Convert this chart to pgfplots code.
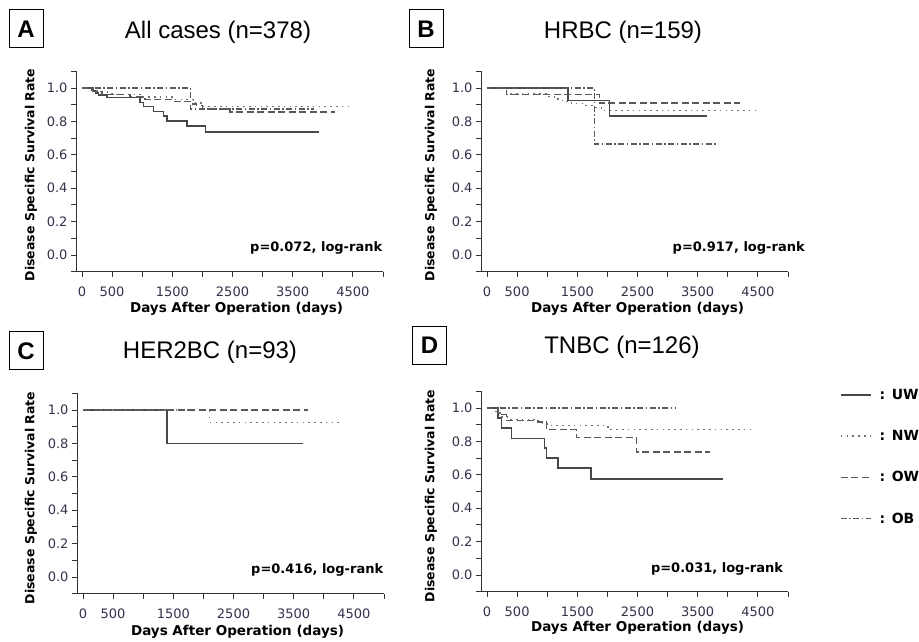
\documentclass[border=0pt]{standalone}
\usepackage{fontspec}
\usepackage{pgfplots}
\pgfplotsset{compat=1.18}
\setmainfont{DejaVu Sans}
\newfontfamily\dejavu{DejaVu Sans}
\newfontfamily\libsans{Liberation Sans}
\newcommand\tickfont{\dejavu\fontsize{13}{15}\selectfont}
\newcommand\ylabfont{\dejavu\bfseries\fontsize{12.5}{14}\selectfont}
\newcommand\xlabfont{\dejavu\bfseries\fontsize{13.5}{15}\selectfont}
\newcommand\pfont{\dejavu\bfseries\fontsize{13}{15}\selectfont}
\newcommand\legfont{\dejavu\bfseries\fontsize{14}{16}\selectfont}
\newcommand\titlefont{\libsans\fontsize{24}{28}\selectfont}
\newcommand\letterfont{\libsans\bfseries\fontsize{24}{28}\selectfont}
\definecolor{tickgray}{RGB}{50,50,75}

\pgfplotsset{
  km/.style={
    scale only axis, width=307pt, height=200.4pt,
    xmin=-100, xmax=5000, ymin=-0.1, ymax=1.1,
    axis lines=left, axis line style={-, black!80, line width=0.9pt},
    xtick={0,500,...,5000}, xticklabels={0,500,,1500,,2500,,3500,,4500,},
    ytick={0,0.2,0.4,0.6,0.8,1.0}, minor ytick={-0.1,0.1,0.3,0.5,0.7,0.9,1.1},
    tick align=outside, major tick length=5pt, minor tick length=5pt,
    tick style={black!80, line width=0.9pt},
    y tick label style={/pgf/number format/.cd, fixed, fixed zerofill, precision=1, /tikz/.cd},
    x tick label style={yshift=-7pt},
    ticklabel style={font=\tickfont, text=tickgray},
    /pgf/number format/assume math mode=true,
    xlabel={Days After Operation (days)},
    ylabel={Disease Specific Survival Rate},
    xlabel style={font=\xlabfont, anchor=center},
    ylabel style={font=\ylabfont, anchor=center},
    clip=false,
    legend image code/.code={\draw[#1] (0pt,0pt) -- (30pt,0pt);},
  },
  uw/.style={const plot, mark=none, draw=black!72, line width=1.6pt, solid},
  nw/.style={const plot, mark=none, draw=black!55, line width=1.5pt, dash pattern=on 1.6pt off 4.2pt},
  ow/.style={const plot, mark=none, draw=black!65, line width=1.5pt, dash pattern=on 7pt off 3.5pt},
  ob/.style={const plot, mark=none, draw=black!65, line width=1.3pt, dash pattern=on 6pt off 2.5pt on 1.5pt off 2.5pt},
}

\begin{document}
\begin{tikzpicture}
\useasboundingbox (0,0) rectangle (919pt,641pt);

% A: all cases
\begin{axis}[km, at={(76pt,369.3pt)}, anchor=south west,
  xlabel style={at={(axis description cs:0.523,-0.183)}},
  ylabel style={at={(axis description cs:-0.147,0.483)}}]
  \addplot[uw] coordinates {(0,1) (166,0.984) (221,0.97) (277,0.958) (415,0.944) (968,0.914) (1024,0.89) (1190,0.86) (1356,0.834) (1411,0.804) (1743,0.774) (2048,0.735) (3929,0.735)};
  \addplot[nw] coordinates {(0,1) (100,0.99) (250,0.975) (500,0.962) (1000,0.945) (1500,0.93) (1850,0.91) (2000,0.888) (4480,0.888)};
  \addplot[ow] coordinates {(0,1) (180,0.98) (330,0.96) (800,0.945) (1050,0.93) (1500,0.92) (1800,0.905) (1900,0.895) (2000,0.875) (2460,0.855) (4200,0.855)};
  \addplot[ob] coordinates {(0,1) (1800,0.875) (3850,0.875)};
  \node[anchor=east, font=\pfont, inner sep=0pt] at (axis cs:4990,0.043) {p=0.072, log-rank};
\end{axis}

% B: HRBC
\begin{axis}[km, at={(481pt,369.3pt)}, anchor=south west,
  xlabel style={at={(axis description cs:0.51,-0.183)}},
  ylabel style={at={(axis description cs:-0.163,0.483)}}]
  \addplot[uw] coordinates {(0,1) (1342,0.926) (2032,0.834) (3661,0.834)};
  \addplot[nw] coordinates {(0,1) (320,0.965) (1010,0.95) (1120,0.935) (1250,0.92) (1400,0.906) (1620,0.894) (1790,0.884) (1900,0.866) (4490,0.866)};
  \addplot[ow] coordinates {(0,1) (320,0.96) (1866,0.91) (4210,0.91)};
  \addplot[ob] coordinates {(0,1) (1784,0.664) (3827,0.664)};
  \node[anchor=east, font=\pfont, inner sep=0pt] at (axis cs:5280,0.043) {p=0.917, log-rank};
\end{axis}

% C: HER2BC
\begin{axis}[km, at={(77pt,47.3pt)}, anchor=south west,
  xlabel style={at={(axis description cs:0.523,-0.191)}},
  ylabel style={at={(axis description cs:-0.150,0.478)}}]
  \addplot[uw] coordinates {(0,1) (1396,0.8) (3657,0.8)};
  \addplot[nw] coordinates {(0,1) (2105,0.926) (4321,0.926)};
  \addplot[ow] coordinates {(0,1) (3740,1)};
  \node[anchor=east, font=\pfont, inner sep=0pt] at (axis cs:4990,0.042) {p=0.416, log-rank};
\end{axis}

% D: TNBC
\begin{axis}[km, at={(481pt,49.3pt)}, anchor=south west,
  xlabel style={at={(axis description cs:0.51,-0.182)}},
  ylabel style={at={(axis description cs:-0.163,0.478)}},
  legend style={at={(rel axis cs:1.169,1.012)}, anchor=north west, draw=none, fill=none,
    font=\legfont, inner sep=0pt, row sep=29.5pt, column sep=8pt,
    nodes={inner sep=0pt}},
  legend cell align=left]
  \addplot[uw] coordinates {(0,1) (183,0.94) (238,0.88) (404,0.818) (958,0.76) (990,0.70) (1179,0.64) (1731,0.575) (3917,0.575)};
  \addplot[nw] coordinates {(0,1) (150,0.97) (250,0.945) (400,0.93) (850,0.91) (1000,0.894) (2010,0.87) (4390,0.87)};
  \addplot[ow] coordinates {(0,1) (183,0.96) (320,0.926) (850,0.915) (986,0.87) (1484,0.824) (2481,0.736) (3699,0.736)};
  \addplot[ob] coordinates {(0,1) (3145,1)};
  \legend{: UW, : NW, : OW, : OB}
  \node[anchor=east, font=\pfont, inner sep=0pt] at (axis cs:4920,0.038) {p=0.031, log-rank};
\end{axis}

% titles and panel letters
\node[font=\titlefont] at (218pt,608.5pt) {All cases (n=378)};
\node[font=\titlefont] at (623pt,608.5pt) {HRBC (n=159)};
\node[font=\titlefont] at (210pt,289pt) {HER2BC (n=93)};
\node[font=\titlefont] at (622pt,294pt) {TNBC (n=126)};
\foreach \l/\x/\y in {A/26/612, B/426/612, C/26/290, D/429.5/295.5}
  \node[draw, line width=1pt, minimum width=34pt, minimum height=38pt, font=\letterfont, inner sep=0pt] at (\x pt,\y pt) {\l};
\end{tikzpicture}
\end{document}
